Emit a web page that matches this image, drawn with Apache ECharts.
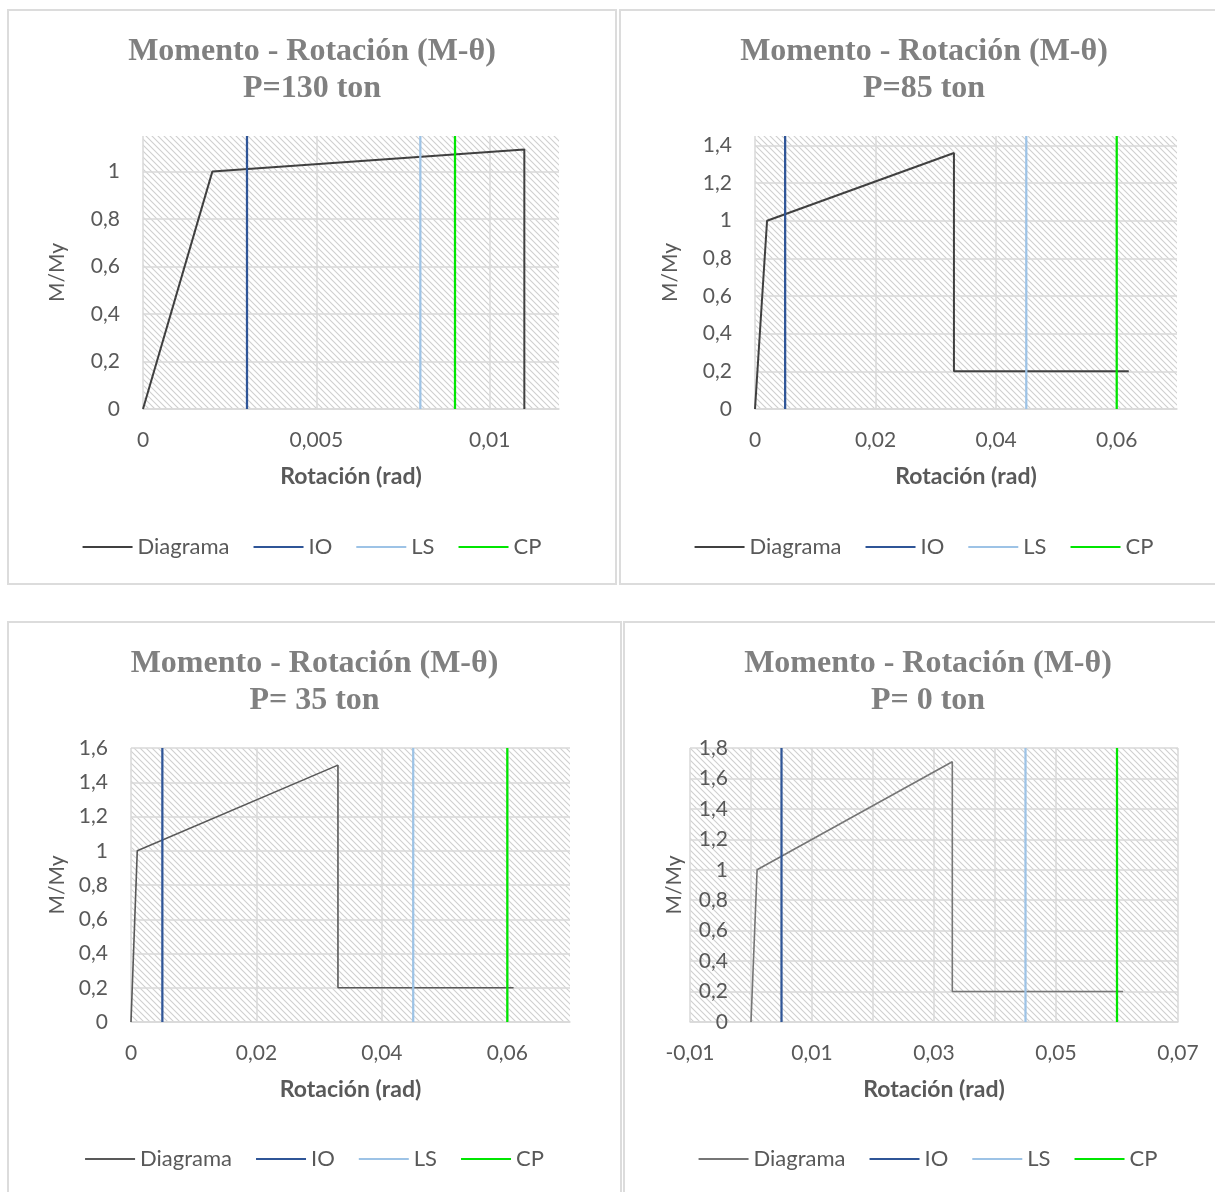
<!DOCTYPE html>
<html><head><meta charset="utf-8">
<script src="https://cdn.jsdelivr.net/npm/echarts@6/dist/echarts.min.js"></script>
<style>
html,body{margin:0;padding:0;width:1215px;height:1192px;overflow:hidden;background:#fff;}
.panel{position:absolute;border:2px solid #dcdcdc;box-sizing:border-box;background:#fff;}
.chart{position:absolute;left:0;top:0;right:0;bottom:0;}
</style></head><body>
<div class="panel" style="left:7px;top:9px;width:610px;height:576px"><div class="chart" id="c1"></div></div>
<div class="panel" style="left:619px;top:9px;width:610px;height:576px"><div class="chart" id="c2"></div></div>
<div class="panel" style="left:7px;top:621px;width:615px;height:600px"><div class="chart" id="c3"></div></div>
<div class="panel" style="left:623px;top:621px;width:610px;height:600px"><div class="chart" id="c4"></div></div>
<script>
// ---------- DATA ----------
const seriesNames = ['Diagrama', 'IO', 'LS', 'CP'];
const titleMain = 'Momento - Rotación (M-θ)';
const titleLoads = ['P=130 ton', 'P=85 ton', 'P= 35 ton', 'P= 0 ton'];
const axisNameX = 'Rotación (rad)';
const axisNameY = 'M/My';

// Diagrama points (rotation, M/My)
const p130Rot = [0, 0.002, 0.011, 0.011];
const p130Mom = [0, 1.0, 1.093, 0];
const p85Rot = [0, 0.002, 0.033, 0.033, 0.062];
const p85Mom = [0, 1.0, 1.36, 0.2, 0.2];
const p35Rot = [0, 0.001, 0.033, 0.033, 0.061];
const p35Mom = [0, 1.0, 1.5, 0.2, 0.2];
const p0Rot = [0, 0.001, 0.033, 0.033, 0.061];
const p0Mom = [0, 1.0, 1.71, 0.2, 0.2];

// Performance limits IO, LS, CP (rotation)
const p130Limits = [0.003, 0.008, 0.009];
const p85Limits = [0.005, 0.045, 0.06];
const p35Limits = [0.005, 0.045, 0.06];
const p0Limits = [0.005, 0.045, 0.06];

// Axis ranges [min, max, step]
const p130XRange = [0, 0.012, 0.005];
const p130YRange = [0, 1.15, 0.2];
const p85XRange = [0, 0.07, 0.02];
const p85YRange = [0, 1.45, 0.2];
const p35XRange = [0, 0.07, 0.02];
const p35YRange = [0, 1.6, 0.2];
const p0XRange = [-0.01, 0.07, 0.01];
const p0YRange = [0, 1.8, 0.2];
const p0XLabelEvery = 2;

// ---------- STYLE ----------
const limitColors = ['#2F5597', '#9DC3E6', '#00E600'];
const textGray = '#595959';
const gridGray = '#d9d9d9';

function hatchImage() {
  const n = 6;
  const c = document.createElement('canvas');
  c.width = n; c.height = n;
  const g = c.getContext('2d');
  g.fillStyle = '#ffffff'; g.fillRect(0, 0, n, n);
  g.strokeStyle = '#cfcfcf'; g.lineWidth = 1.1;
  g.beginPath();
  g.moveTo(-1, -1); g.lineTo(n + 1, n + 1);
  g.moveTo(-1, n - 1); g.lineTo(1, n + 1);
  g.moveTo(n - 1, -1); g.lineTo(n + 1, 1);
  g.stroke();
  return c;
}
const hatch = { image: hatchImage(), repeat: 'repeat' };

function fmt(v) {
  return (+v.toFixed(6)).toString().replace('.', ',');
}
function onTick(r) {
  const k = (r[1] - r[0]) / r[2];
  return Math.abs(k - Math.round(k)) < 1e-6;
}

function build(cfg) {
  const diag = cfg.rot.map((x, i) => [x, cfg.mom[i]]);
  const series = [{
    name: seriesNames[0], type: 'line', data: diag, symbol: 'none',
    lineStyle: { color: cfg.diagColor, width: cfg.diagWidth }, itemStyle: { color: cfg.diagColor },
    z: 3, animation: false
  }];
  cfg.limits.forEach((x, i) => {
    series.push({
      name: seriesNames[i + 1], type: 'line', symbol: 'none',
      data: [[x, cfg.yr[0]], [x, cfg.yr[1]]],
      lineStyle: { color: limitColors[i], width: 2.25 }, itemStyle: { color: limitColors[i] },
      z: 4, animation: false
    });
  });
  const xEvery = cfg.xEvery || 1;
  // y axis crosses the x axis at rotation 0 (as in the original chart)
  const yCross = -cfg.grid[2] * (0 - cfg.xr[0]) / (cfg.xr[1] - cfg.xr[0]);
  return {
    animation: false,
    title: {
      text: titleMain + '\n' + cfg.load, left: 'center', top: 17,
      textStyle: { fontFamily: 'Liberation Serif', fontWeight: 'bold', fontSize: 32, color: '#808080', lineHeight: 37 }
    },
    legend: {
      data: seriesNames, left: 'center', top: 520, itemWidth: 50, itemHeight: 14, itemGap: 24,
      icon: 'path://M0,6 L50,6 L50,8 L0,8 Z',
      textStyle: { fontFamily: 'Lato', fontSize: 22, color: textGray }
    },
    grid: {
      left: cfg.grid[0], top: cfg.grid[1], width: cfg.grid[2], height: cfg.grid[3],
      show: true, backgroundColor: hatch, borderWidth: 0, containLabel: false, outerBoundsMode: 'none'
    },
    xAxis: {
      type: 'value', min: cfg.xr[0], max: cfg.xr[1], interval: cfg.xr[2], position: 'bottom',
      name: axisNameX, nameLocation: 'middle', nameGap: 56,
      nameTextStyle: { fontFamily: 'Lato', fontWeight: 'bold', fontSize: 23, color: textGray },
      axisLine: { show: true, onZero: false, lineStyle: { color: gridGray, width: 1.5 } },
      axisTick: { show: false },
      splitLine: { show: true, showMaxLine: onTick(cfg.xr), lineStyle: { color: gridGray, width: 1.5 } },
      axisLabel: {
        margin: 21, fontFamily: 'Lato', fontSize: 21, color: textGray, showMaxLabel: onTick(cfg.xr),
        formatter: v => {
          const k = Math.round((v - cfg.xr[0]) / cfg.xr[2]);
          return (k % xEvery === 0) ? fmt(v) : '';
        }
      }
    },
    yAxis: {
      type: 'value', min: cfg.yr[0], max: cfg.yr[1], interval: cfg.yr[2], position: 'left', offset: yCross,
      name: axisNameY, nameLocation: 'middle', nameGap: cfg.yNameGap,
      nameTextStyle: { fontFamily: 'Lato', fontSize: 21, color: textGray },
      axisLine: { show: false, onZero: false },
      axisTick: { show: false },
      splitLine: { show: true, showMaxLine: onTick(cfg.yr), lineStyle: { color: gridGray, width: 1.5 } },
      axisLabel: { margin: 23, fontFamily: 'Lato', fontSize: 21, color: textGray, showMaxLabel: onTick(cfg.yr), formatter: fmt }
    },
    series: series
  };
}

const cfgs = [
  { id: 'c1', load: titleLoads[0], rot: p130Rot, mom: p130Mom, limits: p130Limits, xr: p130XRange, yr: p130YRange,
    grid: [134, 125, 416, 273], diagColor: '#404040', diagWidth: 2, yNameGap: 75 },
  { id: 'c2', load: titleLoads[1], rot: p85Rot, mom: p85Mom, limits: p85Limits, xr: p85XRange, yr: p85YRange,
    grid: [134, 125, 422, 273], diagColor: '#404040', diagWidth: 2, yNameGap: 74 },
  { id: 'c3', load: titleLoads[2], rot: p35Rot, mom: p35Mom, limits: p35Limits, xr: p35XRange, yr: p35YRange,
    grid: [122, 125, 439, 274], diagColor: '#595959', diagWidth: 1.6, yNameGap: 63 },
  { id: 'c4', load: titleLoads[3], rot: p0Rot, mom: p0Mom, limits: p0Limits, xr: p0XRange, yr: p0YRange,
    grid: [65, 125, 488, 274], diagColor: '#767676', diagWidth: 1.6, yNameGap: 66, xEvery: p0XLabelEvery }
];
cfgs.forEach(c => {
  const chart = echarts.init(document.getElementById(c.id), null, { renderer: 'canvas' });
  chart.setOption(build(c));
});
</script>
</body></html>
